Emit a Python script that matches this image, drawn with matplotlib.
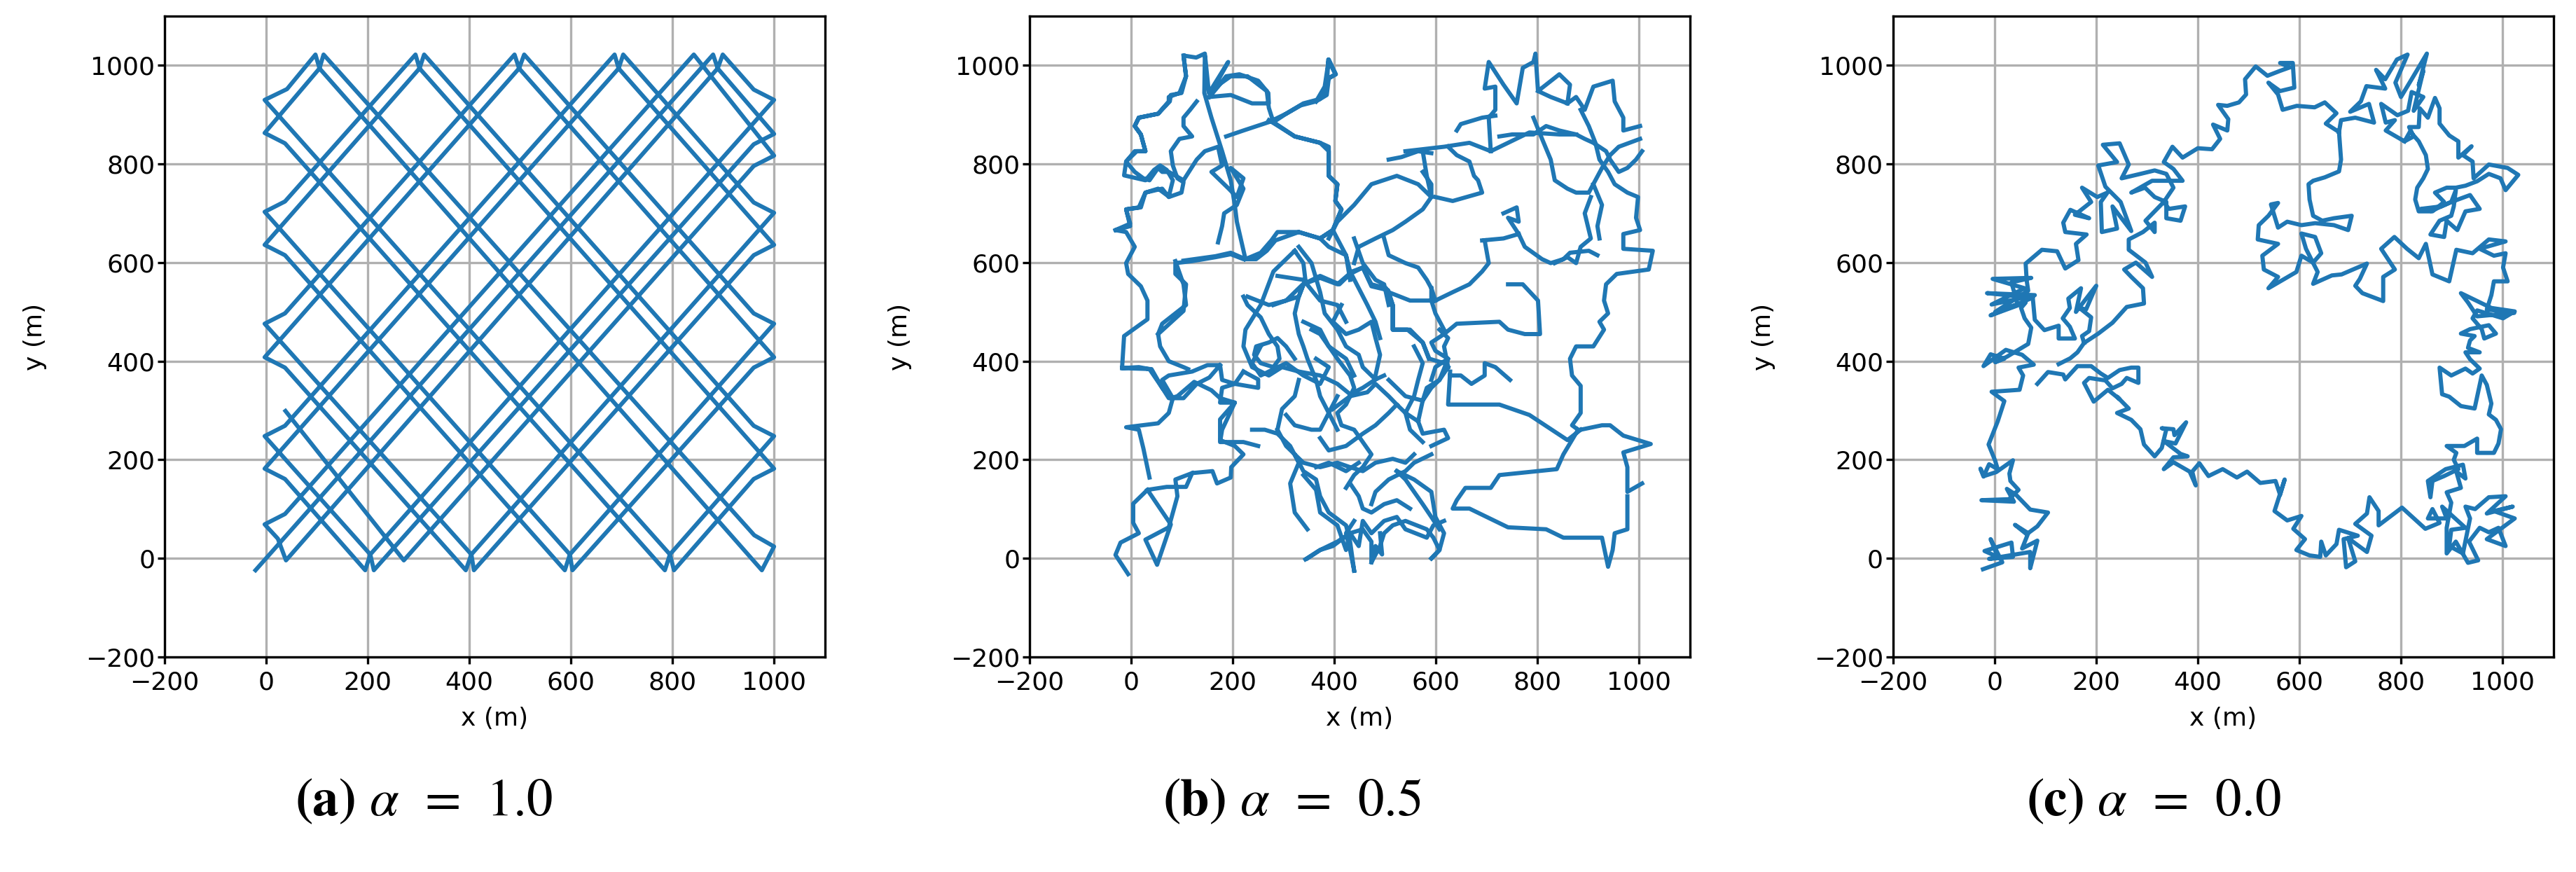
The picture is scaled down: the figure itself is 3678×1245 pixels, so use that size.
import numpy as np
import matplotlib
matplotlib.use('Agg')
import matplotlib.pyplot as plt

plt.rcParams['mathtext.fontset'] = 'stix'

# ---------------- data (metres) ----------------
# (a) alpha = 1.0 : bounce vertices of the straight-line walk, in order
a_x = [38, 271, 960, 1000, 842, 37, -3, 23, 39, 889, 899, 960, 1000, 205, 195, 37, -3,
       694, 703, 960, 1000, 404, 393, 37, -3, 498, 508, 960, 1000, 598, 588, 37, -3,
       302, 311, 960, 1000, 795, 785, 37, -3, 105, 113, 961, 1000, 976, 105, 97, 41, -3,
       795, 803, 960, 1000, 302, 294, 37, -3, 598, 603, 960, 1000, 498, 489, 37, -3,
       404, 409, 960, 1000, 694, 686, 37, -3, 205, 212, 960, 1000, 889, 880, -21]
a_y = [299, -4, 796, 817, 1022, 90, 69, 40, -4, 994, 1022, 951, 930, 8, -24, 161, 182,
       994, 1022, 722, 701, 8, -24, 387, 408, 994, 1022, 497, 476, 8, -24, 615, 636,
       994, 1022, 269, 248, 8, -24, 842, 863, 994, 1022, 47, 24, -24, 994, 1022, 952, 930,
       8, -24, 161, 182, 994, 1022, 724, 703, 8, -24, 387, 408, 994, 1022, 497, 476,
       8, -24, 615, 636, 994, 1022, 269, 248, 8, -24, 840, 861, 994, 1022, -24]

# (b) alpha = 0.5 : traced strokes of the walk
b_paths = [
    # left column
    [(-6, -32), (-31, 7), (-21, 32), (15, 51), (4, 72), (4, 111), (32, 139), (70, 145), (108, 145),
     (120, 173), (160, 177), (169, 152), (196, 164), (197, 185), (221, 211), (204, 228), (175, 240),
     (175, 282), (204, 316), (175, 325), (158, 341), (124, 358), (91, 329), (78, 325), (61, 346),
     (40, 384), (-18, 386), (-14, 451), (32, 485), (32, 523), (19, 552), (-6, 577), (-10, 599),
     (7, 632), (-10, 662), (-31, 666), (-2, 674), (-10, 708), (15, 712), (28, 742), (53, 750),
     (74, 734), (82, 767), (70, 788), (57, 797), (45, 788), (28, 767), (-14, 777), (-10, 805),
     (7, 826), (28, 826), (19, 860), (7, 877), (15, 894), (53, 902), (74, 927), (74, 936), (95, 944),
     (108, 978), (103, 1020), (128, 1016), (145, 1024), (153, 944), (191, 1007), (162, 953),
     (196, 978), (229, 978), (267, 948), (271, 914), (280, 885)],
    [(32, 139), (78, 69), (51, -13), (28, 38), (74, 63), (91, 126), (87, 160), (120, 173)],
    [(36, 164), (24, 223), (15, 261), (-10, 266), (53, 274), (74, 295), (82, 325), (61, 362),
     (74, 371), (120, 379), (150, 392), (175, 392), (179, 362), (204, 354), (250, 346), (250, 363),
     (221, 379)],
    [(-18, 386), (15, 388), (36, 384), (61, 346), (74, 325), (103, 325), (129, 354), (154, 367),
     (175, 392)],
    [(221, 379), (204, 354), (179, 346), (175, 316), (204, 316), (179, 261), (175, 236), (221, 236),
     (250, 228)],
    [(87, 603), (103, 556), (108, 514), (61, 476), (53, 455), (57, 430), (74, 400), (103, 388),
     (112, 384)],
    [(53, 455), (103, 502), (108, 556), (87, 577), (87, 599), (120, 603), (166, 611), (196, 617),
     (221, 607), (246, 607), (267, 624), (284, 645), (330, 662), (372, 649), (397, 666), (414, 708),
     (402, 725), (406, 759), (389, 776), (389, 826), (372, 843), (322, 856), (280, 885), (305, 902),
     (334, 919), (364, 927), (385, 940), (389, 974), (402, 982), (388, 1012), (385, 953), (364, 927)],
    # upper left
    [(103, 1020), (108, 978), (99, 944), (78, 940), (76, 927), (53, 902), (15, 894), (7, 877),
     (19, 860), (28, 826), (11, 826), (-10, 805), (7, 784), (24, 771), (36, 767), (53, 792),
     (61, 784), (74, 784), (103, 767), (129, 809), (145, 826), (171, 835), (179, 797), (158, 784),
     (192, 750), (208, 733), (221, 771), (196, 792), (221, 750), (208, 717), (183, 700), (179, 674),
     (171, 641)],
    [(145, 1016), (144, 944), (158, 894), (179, 826), (196, 767), (204, 717), (208, 683), (225, 607)],
    [(154, 936), (196, 940), (238, 923), (271, 923), (270, 944), (250, 969), (213, 982), (187, 978),
     (171, 957), (154, 936)],
    [(187, 856), (221, 868), (271, 885), (305, 902), (339, 923), (372, 932), (389, 974), (403, 982),
     (389, 1012), (381, 957), (364, 927)],
    [(271, 889), (322, 856), (372, 843), (389, 835), (389, 776), (406, 759), (402, 725), (414, 708),
     (397, 666), (372, 649), (330, 662), (288, 662), (276, 645), (255, 620), (225, 607)],
    [(129, 927), (116, 910), (103, 894), (103, 877), (120, 856), (95, 851), (78, 826), (82, 797),
     (91, 771), (103, 763), (99, 742), (74, 733), (61, 750), (28, 742), (19, 712), (-10, 708),
     (-2, 679), (-31, 666)],
    [(103, 604), (166, 613), (196, 620), (225, 607), (250, 615)],
    # centre
    [(229, 531), (271, 514), (305, 523), (338, 556), (372, 573), (410, 556), (431, 577), (456, 590),
     (473, 552), (506, 544), (515, 514), (515, 464), (544, 464), (574, 438), (587, 405), (616, 396)],
    [(330, 632), (355, 599), (372, 540), (381, 497), (406, 464), (423, 430), (448, 413), (456, 388),
     (481, 363), (498, 371)],
    [(322, 624), (280, 582), (255, 514), (225, 464), (221, 430), (238, 388), (271, 371), (297, 388),
     (330, 379), (372, 371), (406, 354), (431, 333), (456, 346), (481, 363)],
    [(221, 531), (229, 514), (255, 489), (271, 455), (288, 430), (292, 405), (280, 388), (255, 396),
     (242, 413), (246, 430), (271, 438), (288, 447), (305, 430), (322, 405)],
    [(280, 514), (305, 523), (330, 531), (339, 556), (372, 569), (406, 556), (435, 582), (456, 590),
     (473, 556), (502, 548), (515, 514), (515, 464), (549, 464), (574, 438), (586, 405)],
    [(322, 624), (339, 599), (343, 565), (330, 531), (322, 497), (330, 455), (339, 430), (347, 405),
     (364, 362), (372, 329), (389, 295), (406, 261)],
    [(372, 649), (389, 632), (423, 615), (431, 582), (448, 548), (465, 514), (481, 480), (490, 447)],
    [(414, 514), (397, 480), (423, 455), (448, 464), (473, 480), (481, 447), (490, 413), (481, 371)],
    [(355, 464), (372, 455), (389, 430), (406, 405), (431, 371), (439, 346), (423, 312), (406, 295),
     (414, 270), (439, 261), (456, 236), (473, 211), (456, 185), (439, 169), (423, 143)],
    [(288, 573), (339, 565), (372, 523), (406, 514), (423, 480)],
    [(255, 430), (238, 396), (255, 371), (305, 396), (339, 371), (372, 354), (389, 388), (364, 405)],
    [(339, 480), (372, 464), (389, 430), (423, 405), (439, 371)],
    [(397, 666), (423, 615), (431, 565)],
    [(439, 649), (456, 599), (481, 565), (498, 556), (507, 514)],
    [(397, 303), (431, 329), (465, 337), (481, 354), (507, 329), (523, 312)],
    [(507, 362), (523, 346), (540, 329), (574, 320), (591, 346), (607, 362), (624, 388)],
    [(372, 244), (389, 219), (423, 228), (456, 253), (481, 270), (507, 295), (523, 312), (540, 295),
     (565, 278)],
    [(288, 261), (297, 303), (322, 329), (330, 362)],
    [(557, 430), (574, 396), (565, 362), (557, 329), (540, 295), (549, 261), (574, 236)],
    # lower centre
    [(238, 261), (263, 261), (288, 253), (313, 228), (330, 194), (313, 152), (322, 93), (347, 59)],
    [(288, 261), (305, 228), (322, 211), (339, 177), (364, 160), (372, 126), (389, 93), (423, 67),
     (431, 34), (439, -25)],
    [(322, 211), (339, 194), (372, 185), (406, 194), (431, 185), (456, 177), (481, 194), (515, 202),
     (540, 194), (557, 211)],
    [(305, 291), (322, 270), (355, 261), (372, 261), (389, 295), (406, 329)],
    [(364, 185), (389, 194), (423, 177), (448, 194)],
    [(339, 169), (364, 139), (372, 93), (406, 67), (423, 17), (431, 51), (448, 25), (456, 76),
     (473, 51), (498, 76), (523, 84), (540, 59), (582, 42), (595, 67), (616, 76)],
    [(347, 0), (372, 17), (406, 34), (431, 51), (456, 59), (473, 34), (473, -8), (490, 25), (498, 51),
     (515, 67), (540, 76), (582, 59), (595, 42), (607, 17), (591, 0)],
    [(523, 177), (540, 160), (557, 135), (574, 110), (591, 84), (607, 59)],
    [(431, 152), (448, 126), (456, 101), (473, 93), (498, 110), (523, 118), (549, 101)],
    [(473, 110), (481, 135), (507, 160), (540, 177), (557, 194), (591, 211)],
    [(343, -2), (372, 17), (397, 25), (431, 51)],
    [(439, -25), (431, 17), (423, 51), (439, 76)],
    [(473, -8), (481, 25), (494, 8), (490, 51)],
    [(523, 177), (557, 160), (591, 135), (599, 84), (616, 51), (607, 17), (591, 0)],
    # right half
    [(540, 826), (574, 830), (616, 835), (666, 843), (708, 826), (784, 864), (843, 860), (876, 860)],
    [(507, 809), (532, 814), (565, 826), (591, 822)],
    [(624, 835), (641, 818), (666, 805), (675, 776), (683, 767), (691, 742), (633, 725), (599, 733)],
    [(574, 784), (591, 759), (591, 733), (565, 759), (523, 776), (473, 759), (439, 717), (406, 683),
     (389, 649)],
    [(574, 826), (582, 776), (591, 733), (574, 708), (540, 683), (515, 666), (481, 649), (448, 632),
     (439, 599)],
    [(498, 649), (507, 615), (540, 599), (565, 590), (582, 565), (591, 548), (599, 523)],
    [(708, 826), (704, 894), (717, 910), (717, 957), (696, 953), (704, 1007), (733, 961), (759, 923),
     (771, 995), (792, 1007), (796, 1024), (801, 948), (843, 982), (864, 961), (859, 923)],
    [(641, 868), (649, 881), (691, 894), (717, 898)],
    [(725, 856), (750, 860), (792, 860), (817, 877), (843, 868), (876, 860), (893, 851), (910, 843),
     (935, 826), (943, 809), (960, 784), (977, 792), (994, 809), (1006, 826)],
    [(801, 948), (826, 936), (859, 923), (876, 936), (893, 910), (910, 957), (948, 969), (952, 927),
     (969, 894), (969, 868), (1002, 877)],
    [(792, 894), (809, 851), (826, 809), (834, 767), (859, 750), (876, 742), (901, 742), (914, 767),
     (927, 792), (943, 818), (960, 835), (1002, 851)],
    [(885, 910), (901, 877), (914, 843), (922, 809), (939, 784), (952, 759), (977, 742), (998, 733),
     (994, 691), (1002, 666), (969, 658), (969, 628), (1027, 624), (1019, 586), (956, 577), (935, 556),
     (931, 523), (939, 497), (922, 480), (931, 464), (910, 430), (876, 430), (864, 405), (868, 371),
     (885, 350), (885, 295), (868, 270), (880, 261)],
    [(905, 733), (893, 700), (905, 649), (885, 632), (876, 599), (859, 611), (834, 599)],
    [(910, 759), (927, 717), (918, 674), (922, 649)],
    [(733, 700), (759, 712), (763, 683), (742, 691), (763, 658), (775, 632), (809, 607), (826, 599),
     (851, 607), (864, 620), (901, 624), (918, 615)],
    [(691, 645), (733, 649), (763, 658)],
    [(696, 645), (704, 599), (691, 582), (666, 556), (633, 540), (599, 523)],
    [(742, 556), (771, 556), (801, 523), (805, 455), (775, 455), (742, 464), (725, 480), (641, 476),
     (616, 455), (591, 438), (599, 421), (624, 405), (616, 379)],
    [(624, 388), (616, 430), (624, 447), (607, 464)],
    [(628, 379), (624, 312), (725, 312), (784, 291), (859, 240), (885, 261)],
    [(885, 261), (927, 270), (943, 270), (969, 249), (1023, 232), (969, 215), (977, 185), (977, 135),
     (1006, 152)],
    [(880, 261), (851, 211), (838, 181), (725, 169), (708, 143), (658, 143), (641, 118), (633, 101),
     (666, 101), (742, 63), (817, 59), (851, 42), (927, 42), (939, -17), (948, 17), (952, 51),
     (977, 59), (977, 126)],
    [(591, 362), (599, 388), (624, 405), (607, 362), (582, 346), (574, 320), (565, 278), (574, 253),
     (616, 261), (624, 244), (591, 228)],
    [(746, 362), (717, 388), (696, 396), (696, 371), (670, 354), (649, 371), (628, 371)],
    [(591, 548), (591, 523), (599, 497), (616, 464)],
    [(507, 540), (549, 523), (591, 523)],
]

# (c) alpha = 0.0 : traced strokes of the walk
c_paths = [
    [(-23, -22), (15, -8), (-8, 39), (6, 3), (-20, 15), (33, 32), (36, 3), (-11, -1), (70, 13),
     (70, -20), (84, 36), (54, 20), (66, 51), (40, 68), (63, 49), (84, 65), (105, 93), (70, 99),
     (42, 129), (24, 141), (38, 115), (-26, 118), (28, 120), (47, 139), (31, 157), (29, 172),
     (36, 199), (3, 175), (-21, 167), (-28, 182), (-22, 166), (-11, 191), (6, 181), (1, 198),
     (-12, 231), (-4, 252), (6, 278), (19, 319), (-6, 338), (49, 342), (56, 371), (47, 387),
     (77, 393), (54, 413), (22, 423), (-22, 390), (-8, 414), (19, 405), (1, 398), (24, 409),
     (66, 435), (72, 468), (59, 487), (52, 508),
     (61, 519), (-8, 493), (75, 529), (-15, 538), (79, 534), (-6, 515), (59, 548), (-4, 567),
     (72, 569), (33, 560), (45, 515), (1, 500), (66, 543), (63, 564),
     (61, 598), (93, 626), (123, 623), (139, 588), (165, 605), (160, 638), (181, 657), (139, 662),
     (135, 681), (149, 707), (186, 690), (158, 697), (190, 723), (172, 752), (202, 733), (222, 742),
     (209, 723), (211, 662), (241, 669), (232, 714), (269, 664), (248, 723), (218, 754), (204, 797),
     (241, 804), (213, 839), (246, 842), (264, 799), (250, 771), (287, 780), (315, 787), (338, 780),
     (352, 752), (333, 723), (343, 709), (375, 714), (366, 685), (338, 690), (338, 723), (315, 733),
     (296, 752), (269, 742), (310, 766), (370, 766), (352, 790), (333, 804), (350, 835), (370, 813),
     (400, 832), (428, 830), (444, 851), (430, 880), (458, 868), (460, 891), (440, 920), (458, 918),
     (481, 925), (495, 941), (493, 972), (514, 998),
     (537, 979), (562, 989), (581, 996), (562, 1005), (587, 1005), (590, 955), (562, 948),
     (539, 965), (558, 941), (567, 910), (595, 918), (630, 915), (650, 925), (673, 903), (652, 882),
     (678, 865),
     (682, 809), (678, 785), (650, 773), (627, 766), (618, 759), (620, 728), (627, 695), (645, 685),
     (668, 690), (703, 695), (696, 666), (668, 676), (631, 680), (604, 676), (576, 683), (558, 671),
     (544, 718), (558, 721), (539, 695), (520, 676), (518, 647), (558, 638), (527, 614), (530, 586),
     (558, 571), (539, 548), (594, 581), (604, 614), (627, 600), (643, 619), (631, 652), (604, 659),
     (613, 628), (636, 581), (627, 557), (664, 574), (683, 576), (710, 588), (733, 598), (719, 567),
     (710, 553), (724, 538), (765, 522), (765, 571), (788, 586), (761, 628), (787, 652), (812, 628),
     (835, 609), (849, 638), (862, 576), (895, 562),
     (909, 626), (941, 619), (973, 647), (1006, 643), (955, 628), (983, 614), (1006, 619),
     (1001, 590), (1010, 562), (983, 562), (978, 534), (969, 505), (1023, 498), (950, 491),
     (932, 519), (918, 538), (978, 508), (1024, 501), (1001, 487), (950, 503),
     (941, 487), (959, 465), (964, 446), (987, 456), (973, 473), (936, 465), (918, 456), (945, 451),
     (936, 442), (932, 427), (955, 418), (927, 418), (936, 404), (955, 385), (941, 375), (927, 385),
     (899, 371), (876, 387), (881, 333), (895, 328), (918, 309), (945, 304), (955, 352), (959, 371),
     (969, 352), (978, 314), (973, 292), (987, 281), (997, 262), (992, 233), (983, 214), (950, 214),
     (950, 243), (925, 228), (890, 228), (909, 214), (904, 200), (913, 181), (885, 167), (862, 157),
     (858, 124), (853, 157), (888, 181), (922, 190), (927, 162), (909, 176), (918, 143), (890, 134),
     (899, 113), (890, 62), (890, 10), (908, 34), (932, -9), (952, -4), (934, 34), (955, 62),
     (973, 53), (992, 62), (1006, 25), (969, 39), (1024, 81), (983, 96), (1020, 105), (969, 91),
     (1006, 126), (973, 124), (946, 100), (927, 105), (936, 81), (922, 10), (895, 25), (899, 58),
     (927, 62),
     (881, 105), (890, 81), (853, 81), (862, 100), (876, 72), (848, 60), (802, 103), (756, 67),
     (756, 96), (738, 124), (733, 91), (710, 70), (742, 46), (733, 13), (696, 41), (710, -6),
     (692, -18), (687, 39), (715, 46), (678, 58), (673, 29), (652, 6), (643, 34), (641, 3), (620, 6),
     (594, 17), (611, 39), (588, 60), (604, 86), (576, 77), (551, 96), (571, 160), (562, 129),
     (553, 157), (523, 153), (497, 176),
     (477, 164), (449, 181), (421, 167), (403, 193), (389, 176), (396, 148), (384, 176), (352, 195),
     (333, 181), (352, 205), (380, 207), (366, 212), (333, 238), (356, 233), (377, 276), (354, 250),
     (352, 262), (329, 264), (338, 262), (329, 224), (315, 207), (294, 231), (287, 262), (269, 281),
     (241, 295),
     (264, 304), (241, 328), (246, 323), (223, 342), (195, 318), (176, 356), (186, 366), (218, 361),
     (232, 345), (250, 354), (260, 366), (283, 356), (283, 387), (269, 387), (246, 382), (223, 366),
     (209, 375), (190, 390), (163, 390), (139, 363), (135, 373), (105, 378), (84, 354)],
    [(126, 394), (149, 406), (163, 418), (176, 437), (204, 456), (232, 478), (260, 510), (294, 517),
     (292, 548), (269, 571), (255, 586), (278, 600), (310, 571), (297, 600), (264, 626), (264, 647),
     (292, 662), (315, 681), (315, 662), (297, 685), (333, 723)],
    [(75, 529), (79, 484), (98, 463), (126, 472), (126, 446), (158, 446), (148, 470), (134, 487),
     (148, 508), (145, 527), (170, 548), (160, 500), (190, 540), (200, 553), (180, 505), (167, 508),
     (190, 489), (186, 461), (172, 451), (176, 437)],
    [(678, 865), (682, 889), (710, 894), (747, 884), (737, 922), (700, 906), (721, 927), (732, 958),
     (769, 953), (751, 991), (769, 972), (792, 1012), (813, 1022), (789, 965), (800, 936), (821, 972),
     (851, 1024), (835, 960), (844, 989), (825, 908), (844, 936), (821, 946), (814, 908), (793, 899),
     (761, 922), (770, 884), (788, 889), (770, 868), (807, 846), (825, 856), (816, 875), (835, 875),
     (837, 913), (853, 894), (867, 934), (876, 913), (876, 882), (895, 858), (913, 846), (913, 813),
     (939, 836), (922, 818), (941, 805), (943, 771), (973, 799), (1010, 792), (1031, 778),
     (1006, 747), (996, 771), (973, 780), (950, 765), (927, 756), (908, 752), (890, 752), (867, 742),
     (885, 723), (862, 704), (839, 709), (879, 714), (899, 723), (908, 747), (904, 714), (899, 695),
     (876, 685), (858, 657), (885, 652), (890, 685), (911, 666), (927, 704), (955, 709), (936, 737),
     (899, 723), (858, 704), (835, 704), (828, 728), (832, 752), (844, 771), (853, 790), (849, 818),
     (835, 846), (818, 866), (807, 846)],
]

ticks = [-200, 0, 200, 400, 600, 800, 1000]
captions = [r"$\mathbf{(a)}$ $\alpha$  =  1.0", r"$\mathbf{(b)}$ $\alpha$  =  0.5",
            r"$\mathbf{(c)}$ $\alpha$  =  0.0"]


def join(paths):
    xs, ys = [], []
    for p in paths:
        xs += [q[0] for q in p] + [np.nan]
        ys += [q[1] for q in p] + [np.nan]
    return xs, ys


fig = plt.figure(figsize=(36.78, 12.45), dpi=100)
lefts = [0.0639, 0.3997, 0.7349]
cap_x = [0.1645, 0.5016, 0.8361]

b_x, b_y = join(b_paths)
c_x, c_y = join(c_paths)
series = [(a_x, a_y), (b_x, b_y), (c_x, c_y)]

for i in range(3):
    ax = fig.add_axes([lefts[i], 0.2466, 0.2563, 0.7349])
    ax.plot(series[i][0], series[i][1], color='#1f77b4', lw=4.3)
    ax.set_xlim(-200, 1100)
    ax.set_ylim(-200, 1100)
    ax.set_xticks(ticks)
    ax.set_yticks(ticks)
    ax.grid(True, color='#b0b0b0', lw=2.4)
    ax.set_axisbelow(True)
    ax.tick_params(labelsize=26, length=7, width=2.4)
    ax.tick_params(axis='x', pad=7)
    ax.tick_params(axis='y', pad=3)
    for s in ax.spines.values():
        s.set_linewidth(2.4)
    ax.set_xlabel('x (m)', fontsize=26)
    ax.set_ylabel('y (m)', fontsize=26)
    ax.xaxis.set_label_coords(0.5, -0.078)
    ax.yaxis.set_label_coords(-0.178, 0.5)
    fig.text(cap_x[i], 0.079, captions[i], ha='center', va='center', fontsize=54,
             family='STIXGeneral')

fig.savefig('out.png', dpi=100)
